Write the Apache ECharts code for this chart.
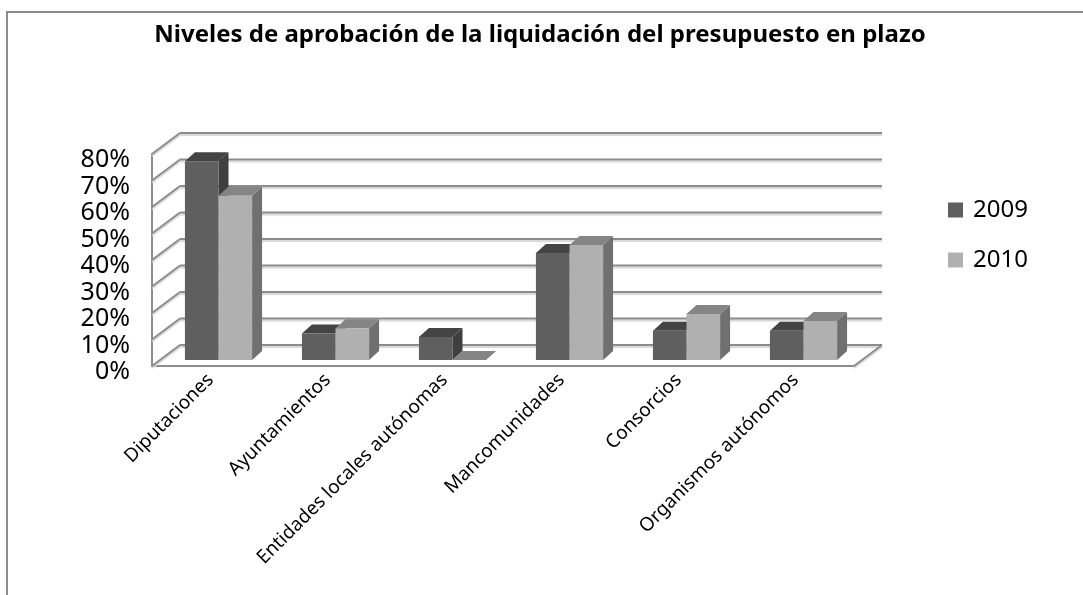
<!DOCTYPE html>
<html>
<head>
<meta charset="utf-8">
<style>
  html, body { margin: 0; padding: 0; background: #fff; }
  #main { width: 1083px; height: 595px; }
</style>
</head>
<body>
<div id="main"></div>
<script src="https://cdn.jsdelivr.net/npm/echarts@6/dist/echarts.min.js"></script>
<script>
var categories = ['Diputaciones', 'Ayuntamientos', 'Entidades locales autónomas', 'Mancomunidades', 'Consorcios', 'Organismos autónomos']
var values2009 = [75, 10, 8.7, 40.4, 11, 11]
var values2010 = [62, 12, 0, 43.4, 17.4, 14.7]
var yTicks = [0, 10, 20, 30, 40, 50, 60, 70, 80]

// profundidad del efecto 3D, en pixeles
var wallDepth = [28, -21]
var barOffset = [8, -6]
var barDepth = [10, -9]
var barRatio = 0.287

var font = '"Noto Sans", sans-serif'
var gridColor = '#8c8c8c'

function line (x1, y1, x2, y2) {
  return {
    type: 'line',
    shape: {x1: x1, y1: y1, x2: x2, y2: y2},
    style: {stroke: gridColor, lineWidth: 2, shadowColor: '#d6d6d6', shadowOffsetY: 2, shadowBlur: 1}
  }
}

// paredes del fondo: lineas horizontales y oblicuas de cada tick
function renderWall (params, api) {
  var cs = params.coordSys
  var y = api.coord([0, api.value(0)])[1]
  var right = cs.x + cs.width
  var children = [
    line(cs.x, y, cs.x + wallDepth[0], y + wallDepth[1]),
    line(cs.x + wallDepth[0], y + wallDepth[1], right + wallDepth[0], y + wallDepth[1])
  ]
  if (api.value(0) === 0) {
    children.push(line(right, y, right + wallDepth[0], y + wallDepth[1]))
  }
  return {type: 'group', children: children}
}

function poly (points, color) {
  return {type: 'polygon', shape: {points: points}, style: {fill: color}}
}

function barRenderer (index, front, top, side) {
  return function (params, api) {
    var band = api.size([1, 0])[0]
    var w = band * barRatio
    var base = api.coord([api.value(0), 0])
    var head = api.coord([api.value(0), api.value(1)])
    var x0 = base[0] + barOffset[0] - w + index * w
    var x1 = x0 + w
    var y0 = base[1] + barOffset[1]
    var y1 = head[1] + barOffset[1]
    var dx = barDepth[0]
    var dy = barDepth[1]
    return {
      type: 'group',
      children: [
        poly([[x1, y0], [x1 + dx, y0 + dy], [x1 + dx, y1 + dy], [x1, y1]], side),
        poly([[x0, y1], [x1, y1], [x1 + dx, y1 + dy], [x0 + dx, y1 + dy]], top),
        poly([[x0, y0], [x1, y0], [x1, y1], [x0, y1]], front)
      ]
    }
  }
}

var myChart = echarts.init(document.getElementById('main'))
myChart.setOption({
  animation: false,
  title: {
    text: 'Niveles de aprobación de la liquidación del presupuesto en plazo',
    left: 535,
    top: 18,
    textAlign: 'center',
    textStyle: {fontFamily: font, fontSize: 24, fontWeight: 'bold', color: '#000'}
  },
  legend: {
    orient: 'vertical',
    left: 943,
    top: 193,
    itemWidth: 15,
    itemHeight: 15,
    itemGap: 26,
    icon: 'rect',
    data: ['2009', '2010'],
    textStyle: {fontFamily: font, fontSize: 24, color: '#000', padding: [0, 0, 0, 5]}
  },
  graphic: [{
    type: 'polyline',
    shape: {points: [[7, 595], [7, 12], [1083, 12]]},
    style: {fill: 'none', stroke: '#8c8c8c', lineWidth: 2},
    silent: true
  }],
  grid: {left: 152, top: 154, width: 702, height: 212},
  xAxis: {
    type: 'category',
    data: categories,
    axisLine: {lineStyle: {color: gridColor, width: 2}},
    axisTick: {show: false},
    axisLabel: {interval: 0, rotate: 45, margin: 11, fontFamily: font, fontSize: 19, color: '#000'}
  },
  yAxis: {
    type: 'value',
    min: 0,
    max: 80,
    interval: 10,
    axisLine: {show: true, lineStyle: {color: gridColor, width: 2}},
    axisTick: {show: false},
    splitLine: {show: false},
    axisLabel: {formatter: '{value}%', margin: 22, verticalAlign: 'top', lineHeight: 12, fontFamily: font, fontSize: 25, color: '#000'}
  },
  series: [
    {
      type: 'custom',
      silent: true,
      z: 1,
      renderItem: renderWall,
      encode: {y: 0},
      data: yTicks.map(function (v) { return [v] })
    },
    {
      name: '2009',
      type: 'custom',
      z: 2,
      itemStyle: {color: '#5f5f5f'},
      renderItem: barRenderer(0, '#5f5f5f', '#444444', '#3f3f3f'),
      encode: {x: 0, y: 1},
      data: values2009.map(function (v, i) { return [i, v] })
    },
    {
      name: '2010',
      type: 'custom',
      z: 3,
      itemStyle: {color: '#b0b0b0'},
      renderItem: barRenderer(1, '#b0b0b0', '#858585', '#707070'),
      encode: {x: 0, y: 1},
      data: values2010.map(function (v, i) { return [i, v] })
    }
  ]
})
</script>
</body>
</html>
